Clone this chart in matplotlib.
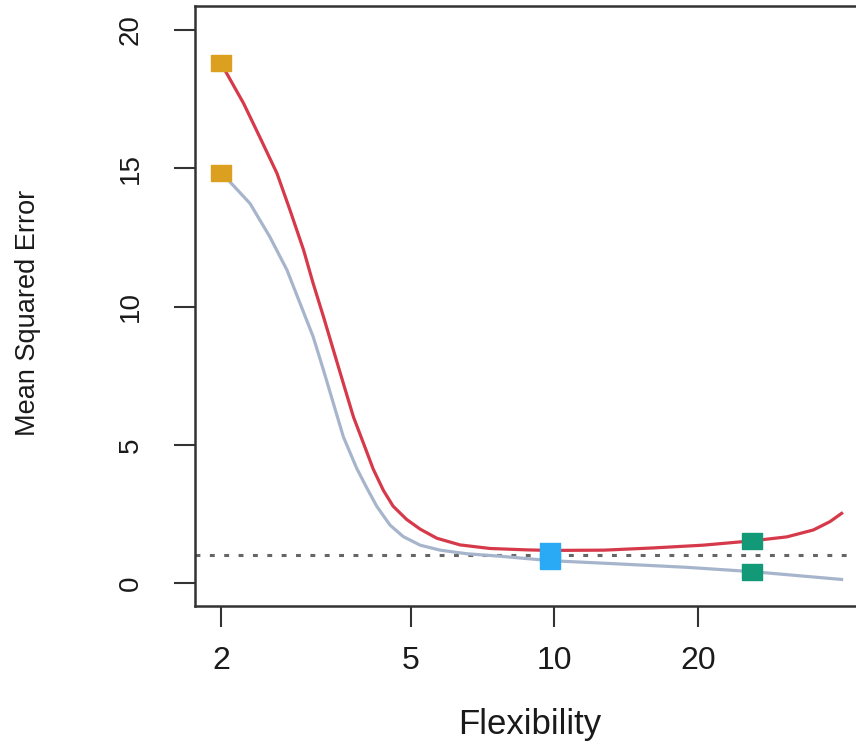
import matplotlib
matplotlib.use("Agg")
import matplotlib.pyplot as plt
from matplotlib.ticker import FixedLocator, FixedFormatter, NullLocator

plt.rcParams['font.family'] = ['Liberation Sans', 'DejaVu Sans']

# test MSE curve (red)
flex_test = [2.0, 2.23, 2.41, 2.62, 2.79, 2.98, 3.12, 3.28, 3.44, 3.61, 3.79,
             4.04, 4.17, 4.38, 4.59, 4.90, 5.23, 5.67, 6.34, 7.33, 8.75, 9.79,
             12.7, 16.1, 20.5, 26.1, 30.7, 34.9, 37.8, 40.0]
mse_test = [18.8, 17.35, 16.14, 14.82, 13.49, 12.04, 10.84, 9.63, 8.43, 7.22, 6.01,
            4.75, 4.12, 3.35, 2.78, 2.30, 1.95, 1.62, 1.38, 1.25, 1.20, 1.18,
            1.19, 1.27, 1.37, 1.53, 1.67, 1.92, 2.22, 2.52]

# training MSE curve (grey)
flex_train = [2.0, 2.07, 2.30, 2.53, 2.75, 2.93, 3.12, 3.28, 3.44, 3.61, 3.85,
              4.04, 4.24, 4.52, 4.82, 5.23, 5.76, 6.55, 7.70, 9.79, 13.7,
              18.9, 26.1, 40.0]
mse_train = [14.84, 14.58, 13.73, 12.53, 11.32, 10.11, 8.91, 7.70, 6.50, 5.29, 4.15,
             3.45, 2.78, 2.10, 1.68, 1.37, 1.19, 1.06, 0.97, 0.81, 0.69,
             0.57, 0.41, 0.13]

# the three fitted methods, marked on both curves
method_flex = [2.0, 9.8, 26.0]
method_test = [18.8, 1.17, 1.53]
method_train = [14.84, 0.81, 0.40]
method_colors = ['#DBA020', '#2AA9F4', '#129A78']

irreducible = 1.0
xticks = [2, 5, 10, 20]
yticks = [0, 5, 10, 15, 20]

fig = plt.figure(figsize=(8.56, 7.46), dpi=100)
ax = fig.add_axes([195/856, 1-606/746, 670/856, 600/746])

ax.axhline(irreducible, color='#666666', lw=2.2, linestyle=(0, (1.6, 3.1)), zorder=1)
ax.plot(flex_train, mse_train, color='#A7B5CC', lw=2.3, zorder=2)
ax.plot(flex_test, mse_test, color='#D6394A', lw=2.3, zorder=3)

# slightly wide rectangles, like in the original
rect = [(-1.35, -1), (1.35, -1), (1.35, 1), (-1.35, 1), (-1.35, -1)]
for fx, yt, yr, c in zip(method_flex, method_test, method_train, method_colors):
    ax.plot([fx, fx], [yt, yr], linestyle='none', marker=rect, markersize=15,
            markerfacecolor=c, markeredgecolor=c, zorder=4)

ax.set_xscale('log')
ax.set_xlim(1.764, 44.78)
ax.set_ylim(-0.83, 20.87)

ax.xaxis.set_major_locator(FixedLocator(xticks))
ax.xaxis.set_major_formatter(FixedFormatter([str(t) for t in xticks]))
ax.xaxis.set_minor_locator(NullLocator())
ax.set_yticks(yticks)
ax.set_yticklabels([str(t) for t in yticks], rotation=90, va='center')

ax.tick_params(axis='both', direction='out', length=15, width=1.5, color='#333333',
               labelcolor='#1a1a1a')
ax.tick_params(axis='x', labelsize=23, pad=14)
ax.tick_params(axis='y', labelsize=20, pad=22)

for sp in ax.spines.values():
    sp.set_color('#333333')
    sp.set_linewidth(1.8)

ax.set_xlabel('Flexibility', fontsize=25, color='#1a1a1a', va='top')
ax.xaxis.set_label_coords(0.5, -0.17)
ax.set_ylabel('Mean Squared Error', fontsize=19.5, color='#1a1a1a', va='center')
ax.yaxis.set_label_coords(-0.249, 0.488)

fig.savefig('out.png', dpi=100)
